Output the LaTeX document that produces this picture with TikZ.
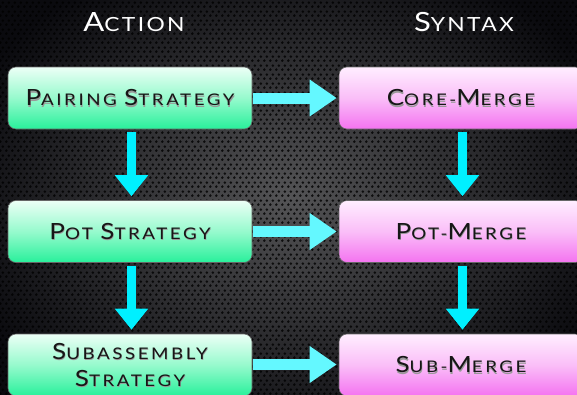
\documentclass[tikz,border=0pt]{standalone}
\usepackage{fontspec}
\setmainfont[FakeStretch=1.17, LetterSpace=16]{Lato}
\usetikzlibrary{arrows.meta,patterns}

% perforated backdrop: staggered rows of small holes
\pgfdeclarepatternformonly{holes}{\pgfpointorigin}{\pgfpoint{6pt}{9pt}}{\pgfpoint{6pt}{9pt}}{%
  \pgfpathcircle{\pgfpoint{1.5pt}{1.5pt}}{1.6pt}%
  \pgfpathcircle{\pgfpoint{4.5pt}{6pt}}{1.6pt}%
  \pgfusepath{fill}}

\definecolor{bgin}{RGB}{84,84,86}
\definecolor{bgout}{RGB}{10,10,14}
\definecolor{gtop}{RGB}{236,255,246}
\definecolor{gmid}{RGB}{150,250,205}
\definecolor{gbot}{RGB}{40,240,155}
\definecolor{ptop}{RGB}{255,238,255}
\definecolor{pmid}{RGB}{250,190,248}
\definecolor{pbot}{RGB}{244,115,240}
\definecolor{hcyan}{RGB}{100,248,255}
\definecolor{vcyan}{RGB}{0,240,255}
\definecolor{ink}{RGB}{22,22,22}

% faked small capitals: enlarged initials
\newcommand\bx[1]{{\fontsize{22.3pt}{27pt}\selectfont #1}}
\newcommand\tx[1]{{\fontsize{26.5pt}{30pt}\selectfont #1}}
% soft dark shadow under box labels
\newcommand\sh[1]{\rlap{\smash{\raisebox{-1.2pt}{\hspace{0.5pt}\color{black!40}#1}}}#1}

\tikzset{
  box/.style={rounded corners=8pt, minimum width=244pt, minimum height=62pt,
    draw=black!60, line width=0.6pt, text=ink, align=center, inner sep=0pt,
    font=\fontsize{16pt}{27pt}\selectfont},
  actbox/.style={box, top color=gtop, bottom color=gbot, middle color=gmid},
  synbox/.style={box, top color=ptop, bottom color=pbot, middle color=pmid},
  heading/.style={text=white, inner sep=0pt,
    font=\addfontfeatures{LetterSpace=12}\fontsize{19.5pt}{24pt}\selectfont},
  harrow/.style={draw=hcyan, line width=11pt,
    -{Triangle[length=27pt,width=35pt]}, shorten <=1pt, shorten >=2pt},
  varrow/.style={draw=vcyan, line width=9.5pt,
    -{Triangle[length=21pt,width=32pt]}, shorten <=3pt, shorten >=4pt}
}

\begin{document}
\begin{tikzpicture}[x=1pt, y=-1pt]
  \useasboundingbox (0,0) rectangle (577,394);
  \clip (0,0) rectangle (577,394);

  % backdrop
  \fill[inner color=bgin, outer color=bgout] (-60,-60) rectangle (637,454);
  \fill[pattern=holes, pattern color=black, fill opacity=0.8] (0,0) rectangle (577,394);

  % column headings
  \node[heading] (hact) at (134,22.5) {\tx{A}CTION};
  \node[heading] (hsyn) at (464,22.5) {\tx{S}YNTAX};

  % action column
  \node[actbox] (pair) at (130,98)    {\sh{\bx{P}AIRING \bx{S}TRATEGY}};
  \node[actbox] (pot)  at (130,231.5) {\sh{\bx{P}OT \bx{S}TRATEGY}};
  \node[actbox] (sub)  at (130,365)   {\sh{\bx{S}UBASSEMBLY}\\\sh{\bx{S}TRATEGY}};

  % syntax column
  \node[synbox] (core) at (461,98)    {\sh{\bx{C}ORE-\bx{M}ERGE}};
  \node[synbox] (potm) at (461,231.5) {\sh{\bx{P}OT-\bx{M}ERGE}};
  \node[synbox] (subm) at (461,365)   {\sh{\bx{S}UB-\bx{M}ERGE}};

  % action to syntax
  \draw[harrow] (pair.east) -- (core.west);
  \draw[harrow] (pot.east)  -- (potm.west);
  \draw[harrow] ([yshift=0.5pt]sub.east) -- ([yshift=0.5pt]subm.west);

  % downward refinement
  \draw[varrow] ([xshift=1.5pt]pair.south) -- ([xshift=1.5pt]pot.north);
  \draw[varrow] ([xshift=1.5pt]pot.south)  -- ([xshift=1.5pt]sub.north);
  \draw[varrow] ([xshift=1.5pt]core.south) -- ([xshift=1.5pt]potm.north);
  \draw[varrow] ([xshift=1.5pt]potm.south) -- ([xshift=1.5pt]subm.north);
\end{tikzpicture}
\end{document}
